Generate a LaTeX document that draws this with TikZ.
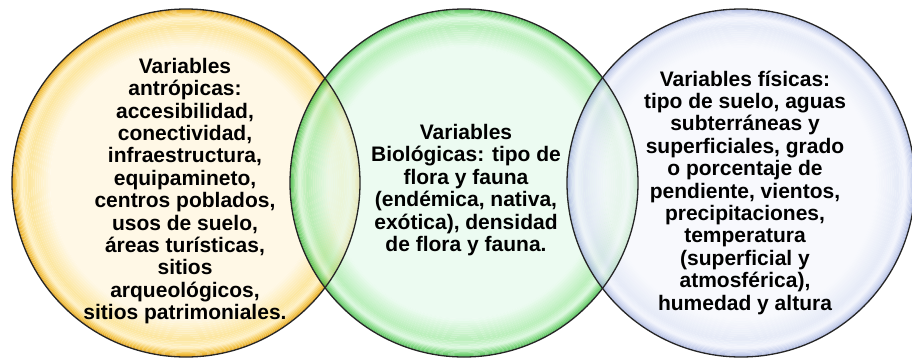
\documentclass[tikz,border=0pt]{standalone}
\usepackage{fontspec}
\setmainfont{Liberation Sans}
\usetikzlibrary{shapes.geometric, positioning}

\definecolor{crema}{RGB}{255,248,230}
\definecolor{amarilloclaro}{RGB}{252,230,160}
\definecolor{brillo}{RGB}{255,242,200}
\definecolor{amarillo}{RGB}{244,196,72}
\definecolor{amarillooscuro}{RGB}{222,160,36}
\definecolor{mentaclaro}{RGB}{230,250,236}
\definecolor{verdeclaro}{RGB}{165,234,165}
\definecolor{brilloverde}{RGB}{212,247,216}
\definecolor{verde}{RGB}{88,204,88}
\definecolor{verdeoscuro}{RGB}{44,164,54}
\definecolor{blancoazul}{RGB}{245,247,252}
\definecolor{azulclaro}{RGB}{222,228,245}
\definecolor{brilloazul}{RGB}{240,243,252}
\definecolor{azul}{RGB}{186,197,232}
\definecolor{azuloscuro}{RGB}{150,163,212}

% one band of rings: centre, r0, r1, from, to, steps, opacity
\newcommand{\tramo}[7]{%
  \foreach \k in {1,...,#6}{
    \pgfmathsetmacro{\ra}{#2+(#3-#2)*(\k-1)/#6}
    \pgfmathsetmacro{\rb}{#2+(#3-#2)*\k/#6}
    \pgfmathtruncatemacro{\p}{100*(\k-0.5)/#6}
    \fill[#5!\p!#4, fill opacity=#7, even odd rule] (#1) circle[radius=\rb] circle[radius=\ra];
  }}
% a whole ball: centre, inside, light, shine, edge, dark, opacity
\newcommand{\bola}[7]{%
  \fill[#2, fill opacity=#7] (#1) circle[radius=136];
  \tramo{#1}{136}{157}{#2}{#3}{10}{#7}
  \tramo{#1}{157}{165}{#3}{#4}{5}{#7}
  \tramo{#1}{165}{171}{#4}{#5}{5}{#7}
  \tramo{#1}{171}{174}{#5}{#6}{3}{#7}}

\begin{document}
\begin{tikzpicture}[x=1pt, y=1pt,
    circulo/.style={circle, minimum size=348pt, inner sep=0pt, outer sep=0pt},
    texto/.style={align=center, font=\bfseries\fontsize{21}{22.4}\selectfont, text=black}]
    \useasboundingbox (0,0) rectangle (912,360);

    % Three circles
    \node[circulo] (antro) at (186,177) {};
    \node[circulo] (bio) at (464,177) {};
    \node[circulo] (fisica) at (741,177) {};

    % Fills, the later ones see-through
    \bola{antro.center}{crema}{amarilloclaro}{brillo}{amarillo}{amarillooscuro}{1}
    \bola{bio.center}{mentaclaro}{verdeclaro}{brilloverde}{verde}{verdeoscuro}{0.75}
    \bola{fisica.center}{blancoazul}{azulclaro}{brilloazul}{azul}{azuloscuro}{0.75}

    % Outlines on top
    \foreach \n in {antro, bio, fisica}
        \draw[line width=1.3pt, black!85] (\n.center) circle[radius=174];

    % Texts
    \node[texto] (tantro) at ([xshift=-1pt, yshift=-8pt]antro.center) {Variables\\antrópicas:\\accesibilidad,\\conectividad,\\infraestructura,\\equipamineto,\\centros poblados,\\usos de suelo,\\áreas turísticas,\\sitios\\arqueológicos,\\sitios patrimoniales.};
    \node[texto] (tbio) at ([xshift=2pt, yshift=-7pt]bio.center) {Variables\\Biológicas: tipo de\\flora y fauna\\(endémica, nativa,\\exótica), densidad\\de flora y fauna.};
    \node[texto] (tfisica) at ([xshift=4pt, yshift=-9.5pt]fisica.center) {Variables físicas:\\tipo de suelo, aguas\\subterráneas y\\superficiales, grado\\o porcentaje de\\pendiente, vientos,\\precipitaciones,\\temperatura\\(superficial y\\atmosférica),\\humedad y altura};
\end{tikzpicture}
\end{document}
